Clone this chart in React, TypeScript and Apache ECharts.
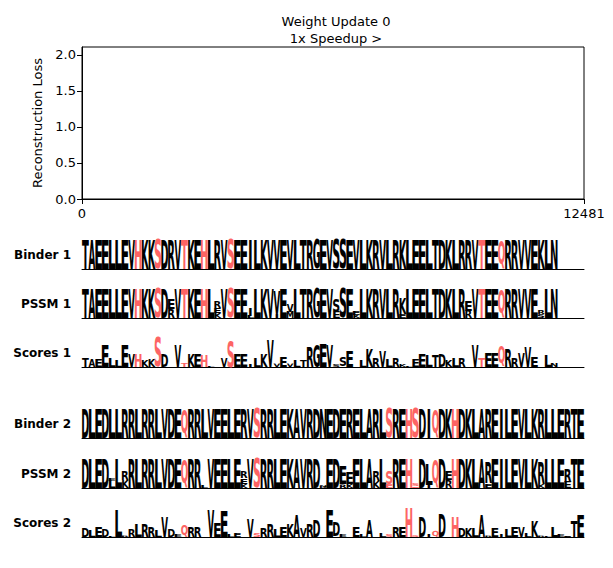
import React, { useEffect, useRef } from "react";
import * as echarts from "echarts";

// ---------- top panel data ----------
const lossSteps: number[] = [];
const lossValues: number[] = [];
const topXTicks = [0, 12481];
const topYTicks = [0, 0.5, 1.0, 1.5, 2.0];
const topYMax = 2.11;
const titleLines = ["Weight Update 0", "1x Speedup >"];

// ---------- sequence logo data ----------
const binder1 = "TAEELLEVHKKSDRVTKEHLRVSEEILKVVEVLTRGEVSSEVLKRVLRKLEELTDKLRRVTEEQRRVVEKLN";
const binder2 = "DLEDLLRRLRRLVDEQRRLVEELERVSRRLEKAVRDNEDERELARLSREHSDIQDKHDKLAREILEVLKRLLERTE";
const highlight1 = [9, 12, 16, 19, 23, 61, 64];
const highlight2 = [16, 27, 47, 50, 51, 54, 57];

// column tokens: letters listed top to bottom, number = % of track height (none = 100)
const pssm1 = [
  "T", "A", "E", "E", "L", "L", "E", "V", "H", "K",
  "K", "S", "D", "E35R30", "V", "T", "K", "E", "H", "L",
  "R20E18K17", "V", "S", "E", "E", "I25L8", "L", "K", "V", "V80I15",
  "E", "V25M20", "L", "T", "R", "G", "E", "V", "S45E20", "S",
  "E", "E15K12", "L", "K", "R", "V", "L", "R", "K55E15", "L",
  "E", "E", "L", "T", "D", "K", "L", "R", "E35R25", "V",
  "T", "E", "E", "Q", "R", "R", "V", "V", "E", "R15S15",
  "L", "N",
];
const scores1 = [
  "T30", "A25", "E25", "E75", "L30", "L20", "E75", "V45", "H45", "K20",
  "K25", "S100", "D45", "", "V75", "T15", "K45", "E45", "H40", "L5",
  "", "V30", "S90", "E45", "E45", "I10", "L30", "K45", "V95", "V12",
  "E35", "V12", "L20", "T22", "R65", "G78", "E82", "V75", "S10", "S30",
  "E55", "", "L20", "K60", "R30", "V55", "L25", "R30", "K10", "L6",
  "E28", "E45", "L42", "T40", "D45", "K20", "L32", "R30", "", "V78",
  "T32", "E48", "E48", "Q72", "R60", "R30", "V48", "V65", "E35", "",
  "L40", "N15",
];
const pssm2 = [
  "D", "L", "E", "D", "E8L25", "L", "R30K25", "R", "L", "R",
  "R", "L", "V", "D", "E", "Q", "R", "R", "L8", "V",
  "E", "E", "L", "E", "R20E18K15", "V", "S", "R", "R", "L",
  "E", "K", "A", "V", "R", "D", "N6D5", "E", "D", "E60R12",
  "E40K15", "E", "L", "A", "R35K22", "L", "S45E12", "R", "E", "H",
  "S8E6", "D", "L70I10", "Q", "D", "E30R25", "H", "D", "K", "L",
  "A", "R70E15", "E", "I", "L", "E", "V", "L", "K", "R75K15",
  "L", "L", "E", "R45E20", "T", "E",
];
const scores2 = [
  "D30", "L20", "E35", "D25", "L5", "L95", "R5", "R25", "L45", "R45",
  "R35", "L20", "V65", "D25", "E7", "Q45", "R35", "R35", "", "V95",
  "E50", "E90", "L10", "E15", "", "V60", "S15", "R30", "R45", "L25",
  "E35", "K45", "A80", "V30", "R45", "D58", "", "E95", "D50", "E8",
  "", "E35", "L8", "A58", "", "L12", "S10", "R35", "E35", "H100",
  "S6", "D65", "I10", "Q22", "D80", "", "H65", "D30", "K32", "L32",
  "A80", "R5", "E32", "I10", "L25", "E35", "V35", "L15", "K55", "R5",
  "L6", "L35", "E10", "E4", "T55", "E75",
];
const trackLabels = ["Binder 1", "PSSM 1", "Scores 1", "Binder 2", "PSSM 2", "Scores 2"];
const logoColumns = 76;

// ---------- styling / layout ----------
const FONT = "DejaVu Sans";
const RED = "#fd6464";
const PLOT_LEFT = 82;
const PLOT_RIGHT = 29;
const trackTops = [240, 289, 338, 409, 459, 508];
const TRACK_H = 29;
const F = 100;
const CENTRAL = 0.346; // em distance between central and alphabetic baseline
// [ink width, ink top, ink bottom] in em
const INK: Record<string, [number, number, number]> = {
  A: [0.76, 0.729, 0], B: [0.61, 0.729, 0], C: [0.62, 0.742, -0.013], D: [0.69, 0.729, 0],
  E: [0.52, 0.729, 0], F: [0.5, 0.729, 0], G: [0.7, 0.742, -0.013], H: [0.66, 0.729, 0],
  I: [0.19, 0.729, 0], K: [0.69, 0.729, 0], L: [0.5, 0.729, 0], M: [0.81, 0.729, 0],
  N: [0.66, 0.729, 0], P: [0.59, 0.729, 0], Q: [0.75, 0.742, -0.16], R: [0.67, 0.729, 0],
  S: [0.6, 0.742, -0.013], T: [0.66, 0.729, 0], V: [0.76, 0.729, 0], W: [1.09, 0.729, 0],
  Y: [0.72, 0.729, 0],
};

type Item = { pos: number; y0: number; y1: number; letter: string; red: boolean };

function parseCol(tok: string) {
  const out: { letter: string; h: number }[] = [];
  const re = /([A-Z])(\d*)/g;
  let m: RegExpExecArray | null;
  while ((m = re.exec(tok))) out.push({ letter: m[1], h: m[2] === "" ? 1 : Number(m[2]) / 100 });
  return out;
}

function buildItems(cols: string[], hl: number[]): Item[] {
  const items: Item[] = [];
  cols.forEach((tok, i) => {
    const parts = parseCol(tok).reverse();
    let y = 0;
    parts.forEach((p) => {
      items.push({ pos: i, y0: y, y1: y + p.h, letter: p.letter, red: hl.includes(i + 1) });
      y += p.h;
    });
  });
  return items;
}

const trackItems: Item[][] = [
  buildItems(binder1.split(""), highlight1),
  buildItems(pssm1, highlight1),
  buildItems(scores1, highlight1),
  buildItems(binder2.split(""), highlight2),
  buildItems(pssm2, highlight2),
  buildItems(scores2, highlight2),
];

function makeRenderItem(items: Item[]) {
  return (params: any, api: any) => {
    const it = items[params.dataIndex];
    const a = api.coord([it.pos - 0.5, it.y0]);
    const b = api.coord([it.pos + 0.5, it.y1]);
    const colW = b[0] - a[0];
    const hPx = a[1] - b[1];
    const m = INK[it.letter] || INK.E;
    const sx = colW / (Math.max(m[0], INK.E[0]) * F);
    const sy = hPx / ((m[1] - m[2]) * F);
    const y = a[1] - sy * (CENTRAL - m[2]) * F;
    const color = it.red ? RED : "#000";
    return {
      type: "text",
      x: (a[0] + b[0]) / 2,
      y,
      scaleX: sx,
      scaleY: sy,
      silent: true,
      style: {
        text: it.letter,
        x: 0,
        y: 0,
        fontSize: F,
        fontFamily: FONT,
        fontWeight: "bold",
        fill: color,
        stroke: color,
        lineWidth: 0.4,
        strokeNoScale: true,
        align: "center",
        verticalAlign: "middle",
      },
    };
  };
}

export default function App() {
  const ref = useRef<HTMLDivElement>(null);
  useEffect(() => {
    if (!ref.current) return;
    const chart = echarts.init(ref.current, null, { renderer: "svg" });
    const grids: any[] = [
      { left: PLOT_LEFT, right: PLOT_RIGHT, top: 47, height: 152, show: true, borderColor: "#000", borderWidth: 1 },
      ...trackTops.map((t) => ({ left: PLOT_LEFT, right: PLOT_RIGHT, top: t, height: TRACK_H })),
    ];
    const xAxes: any[] = [
      {
        gridIndex: 0, type: "value", min: topXTicks[0], max: topXTicks[1], interval: topXTicks[1] - topXTicks[0],
        axisLine: { lineStyle: { color: "#000", width: 1 } },
        axisTick: { length: 5, lineStyle: { color: "#000" } },
        axisLabel: { color: "#000", fontSize: 13, fontFamily: FONT, margin: 8, formatter: (v: number) => String(v) },
        splitLine: { show: false },
      },
      ...trackTops.map((_, i) => ({
        gridIndex: i + 1, type: "value", min: -0.5, max: logoColumns - 0.5,
        axisLine: { show: true, onZero: false, lineStyle: { color: "#000", width: 1 } },
        axisTick: { show: false }, axisLabel: { show: false }, splitLine: { show: false },
      })),
    ];
    const yAxes: any[] = [
      {
        gridIndex: 0, type: "value", min: 0, max: topYMax,
        name: "Reconstruction Loss", nameLocation: "middle", nameGap: 29,
        nameTextStyle: { color: "#000", fontSize: 13, fontFamily: FONT },
        axisLine: { show: true, lineStyle: { color: "#000", width: 1 } },
        axisTick: { show: true, length: 5, customValues: topYTicks, lineStyle: { color: "#000" } },
        axisLabel: {
          color: "#000", fontSize: 13, fontFamily: FONT, margin: 6, customValues: topYTicks,
          formatter: (v: number) => v.toFixed(1),
        },
        splitLine: { show: false },
      },
      ...trackLabels.map((lab, i) => ({
        gridIndex: i + 1, type: "value", min: 0, max: 1,
        name: lab, nameLocation: "middle", nameGap: 11, nameRotate: 0,
        nameTextStyle: { color: "#000", fontSize: 12, fontWeight: "bold", fontFamily: FONT, align: "right" },
        axisLine: { show: false }, axisTick: { show: false }, axisLabel: { show: false }, splitLine: { show: false },
      })),
    ];
    const series: any[] = [
      {
        type: "line", xAxisIndex: 0, yAxisIndex: 0, showSymbol: false,
        data: lossSteps.map((s, i) => [s, lossValues[i]]),
        lineStyle: { color: "#1f77b4" },
      },
      ...trackItems.map((items, i) => ({
        type: "custom", xAxisIndex: i + 1, yAxisIndex: i + 1, clip: false,
        data: items.map((it) => [it.pos, it.y0, it.y1]),
        encode: { x: 0, y: [1, 2] },
        renderItem: makeRenderItem(items),
        silent: true,
      })),
    ];
    chart.setOption({
      animation: false,
      backgroundColor: "#fff",
      title: {
        text: titleLines.join("\n"), left: 331, top: 8, textAlign: "center",
        textStyle: { color: "#000", fontSize: 13, fontWeight: "normal", fontFamily: FONT, lineHeight: 17 },
      },
      grid: grids,
      xAxis: xAxes,
      yAxis: yAxes,
      series,
    });
    return () => chart.dispose();
  }, []);
  return <div ref={ref} style={{ position: "fixed", left: 0, top: 0, width: 613, height: 568 }} />;
}
